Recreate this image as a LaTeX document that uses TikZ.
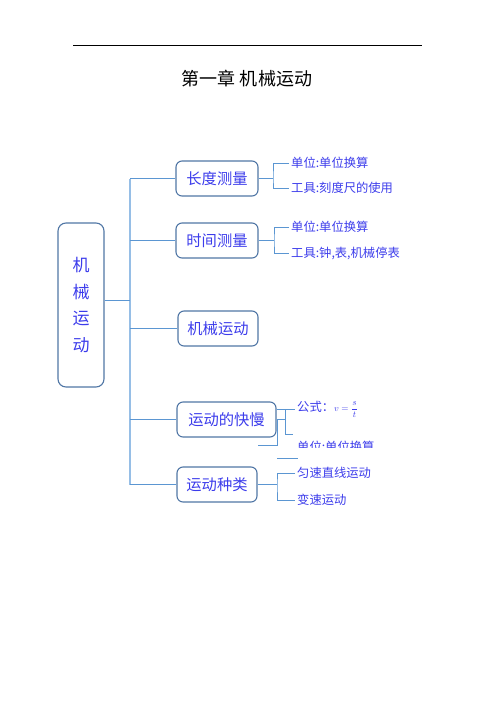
\documentclass[tikz,border=0pt]{standalone}
\usepackage{fontspec}
\newfontfamily\cjk{Noto Sans CJK SC}
\usetikzlibrary{positioning,calc}
\definecolor{boxline}{RGB}{80,118,165}
\definecolor{brline}{RGB}{91,150,210}
\definecolor{spline}{RGB}{150,190,230}
\definecolor{txtblue}{RGB}{60,60,235}

\begin{document}
\begin{tikzpicture}[
  x=1pt,y=-1pt,
  font=\cjk,
  base/.style={draw=boxline,line width=1.1pt,rounded corners=6pt,text=txtblue,
               minimum height=35pt,inner sep=2pt,font=\cjk\fontsize{15.3}{17}\selectfont},
  topic/.style={base},
  sub/.style={anchor=west,inner sep=2pt,text=txtblue,font=\cjk\fontsize{12.3}{14}\selectfont},
  br/.style={draw=brline,line width=0.9pt},
  spine/.style={draw=spline,line width=1.2pt},
]
\useasboundingbox (0,0) rectangle (496,702);
% heading
\coordinate (ruleL) at (73,45);
\coordinate (ruleR) at (422,45);
\draw[line width=0.8pt] (ruleL) -- (ruleR);
\node[font=\cjk\fontsize{18}{20}\selectfont] (title) at (247,79) {第一章 机械运动};
% root
\node[base,rounded corners=8pt,minimum width=46pt,minimum height=164pt,
      align=center,font=\cjk\fontsize{17}{26.7}\selectfont] (main) at (81,305) {机\\械\\运\\动};
% topics
\node[topic,minimum width=82pt] (len)   at (217,178.5) {长度测量};
\node[topic,minimum width=82pt] (time)  at (217,240.5) {时间测量};
\node[topic,minimum width=80pt] (mech)  at (218,328.5) {机械运动};
\node[topic,minimum width=99pt] (speed) at (226.5,419.5) {运动的快慢};
\node[topic,minimum width=80pt] (kind)  at (217,484.5) {运动种类};
% leaves
\node[sub] (lenU)  at (289,163) {单位:单位换算};
\node[sub] (lenT)  at (289,188) {工具:刻度尺的使用};
\node[sub] (timeU) at (289,227) {单位:单位换算};
\node[sub] (timeT) at (289,253) {工具:钟,表,机械停表};
\node[sub] (spdF)  at (295,409.5) {公式：\fontsize{9.5}{10}\selectfont$v=\displaystyle\frac{s}{t}$};
\begin{scope}
  \clip (285,437) rectangle (420,447.5);
  \node[sub] (spdU) at (295,446.5) {单位:单位换算};
\end{scope}
\node[sub] (kindA) at (295,473) {匀速直线运动};
\node[sub] (kindB) at (295,500) {变速运动};
% ---- spine ----
\coordinate (sp) at (130,0);
\draw[spine] (len.west -| sp) -- (kind.west -| sp);
\draw[br] ([yshift=5pt]main.east) -- ([yshift=5pt]main.east -| sp);
\draw[br] (len.west -| sp) -- (len.west);
\draw[br] (time.west -| sp) -- (time.west);
\draw[br] (mech.west -| sp) -- (mech.west);
\draw[br] (speed.west -| sp) -- (speed.west);
\draw[br] (kind.west -| sp) -- (kind.west);
% ---- leaf brackets ----
\coordinate (lJ) at (273,178.5);
\draw[br] (len.east) -- (lJ);
\draw[br] (lenU.west) -| (lJ) |- (lenT.west);
\coordinate (tJ) at (274,240.5);
\draw[br,line width=1.8pt] (time.east) -- (tJ);
\draw[br] (timeU.west) -| (tJ) |- (timeT.west);
% the speed bracket is broken up in the picture
\coordinate (sJ) at (285.5,409.5);
\draw[br] ([yshift=10pt]speed.east) -- (spdF.west);
\draw[br] (speed.east) -- (speed.east -| sJ);
\draw[br] (sJ) -- ++(0,24.5) -- ++(7,0);
\draw[br] ([xshift=1pt]speed.east) -- ++(0,26) -- ++(-20,0);
\coordinate (orph) at (277,458);
\draw[br] (orph) -- ++(21,0);
\coordinate (kJ) at (277,484.5);
\draw[br] (kind.east) -- (kJ);
\draw[br] (kindA.west) -| (kJ) |- (kindB.west);
\end{tikzpicture}
\end{document}
